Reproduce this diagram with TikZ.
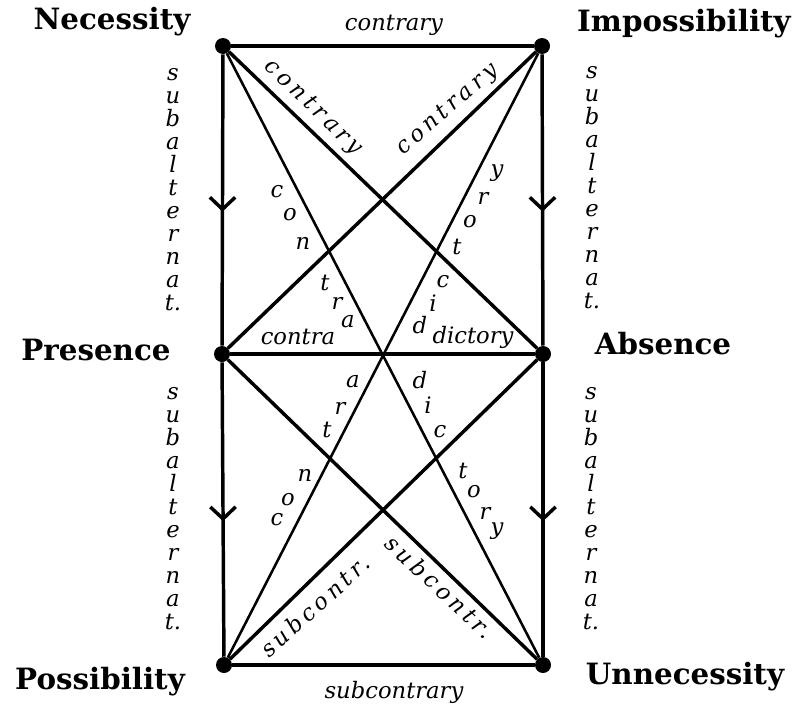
\documentclass[tikz,border=0pt]{standalone}
\usepackage{fontspec}
\setmainfont{DejaVu Serif}
\usepackage{tikz}
\usetikzlibrary{arrows.meta}
\usetikzlibrary{decorations.markings}

\begin{document}
\begin{tikzpicture}[x=0.75pt,y=0.75pt,yscale=-1,xscale=1,
    corner/.style={circle,fill=black,inner sep=0pt,minimum size=12pt},
    title/.style={inner sep=0.75pt,font=\fontsize{22}{26}\selectfont\bfseries},
    word/.style={inner sep=0.75pt,font=\fontsize{17}{20}\selectfont\itshape},
    spaced/.style={inner sep=0.75pt,font=\fontsize{17}{20}\selectfont\itshape\addfontfeature{LetterSpace=18}},
    letter/.style={inner sep=0pt,font=\fontsize{17}{20}\selectfont\itshape},
    column/.style={inner sep=0pt,align=center,font=\fontsize{17}{17.25}\selectfont\itshape},
    side/.style={line width=2.6pt},
    diag/.style={line width=1.9pt},
    subalt/.style={side,postaction={decorate},decoration={markings,mark=at position 0.54 with {\arrow{Straight Barb[length=9pt,width=19pt,line width=2.6pt]}}}}
]
    \useasboundingbox (0,0) rectangle (796,707);

    %Shape: Circle
    \node[corner] (nec) at (223,46) {};
    %Shape: Circle
    \node[corner] (imp) at (542,46) {};
    %Shape: Circle
    \node[corner] (pres) at (222,354) {};
    %Shape: Circle
    \node[corner] (abs) at (543,354) {};
    %Shape: Circle
    \node[corner] (poss) at (224,665) {};
    %Shape: Circle
    \node[corner] (unn) at (543,665) {};

    %Straight Lines
    \draw[side] (nec) -- (imp);
    \draw[side] (pres) -- (abs);
    \draw[side] (poss) -- (unn);
    %Straight Lines with arrows
    \draw[subalt] (nec) -- (pres);
    \draw[subalt] (pres) -- (poss);
    \draw[subalt] (imp) -- (abs);
    \draw[subalt] (abs) -- (unn);
    %Straight Lines
    \draw[side] (nec) -- (abs);
    \draw[side] (imp) -- (pres);
    \draw[side] (pres) -- (unn);
    \draw[side] (abs) -- (poss);
    \draw[diag] (nec) -- (unn);
    \draw[diag] (imp) -- (poss);

    % Text Node
    \node[title] (necessity) at (112,22) {Necessity};
    % Text Node
    \node[title] (impossibility) at (684,24) {Impossibility};
    % Text Node
    \node[title] (presence) at (96,350) {Presence};
    % Text Node
    \node[title] (absence) at (663,344) {Absence};
    % Text Node
    \node[title] (possibility) at (100,682) {Possibility};
    % Text Node
    \node[title] (unnecessity) at (685,677) {Unnecessity};

    % Text Node
    \node[word] (ctop) at (394,25) {contrary};
    % Text Node
    \node[word] (subbot) at (394,692) {subcontrary};
    % Text Node
    \node[word] (contrah) at (298,337) {contra};
    % Text Node
    \node[word] (dictoryh) at (473,337) {dictory};

    % Text Node
    \node[spaced,rotate=-44] (cleft) at (313,108) {contrary};
    % Text Node
    \node[spaced,rotate=41] (cright) at (448,110) {contrary};
    % Text Node
    \node[spaced,rotate=42] (sleft) at (315,606) {subcontr.};
    % Text Node
    \node[spaced,rotate=-43] (sright) at (440,587) {subcontr.};

    % Text Node
    \node[column] (subtl) at (173,190) {s\\u\\b\\a\\l\\t\\e\\r\\n\\a\\t.};
    % Text Node
    \node[column] (subtr) at (592,188) {s\\u\\b\\a\\l\\t\\e\\r\\n\\a\\t.};
    % Text Node
    \node[column] (subbl) at (173,509) {s\\u\\b\\a\\l\\t\\e\\r\\n\\a\\t.};
    % Text Node
    \node[column] (subbr) at (591,509) {s\\u\\b\\a\\l\\t\\e\\r\\n\\a\\t.};

    % Text Node
    \node[letter] (ua1) at (277,192) {c};
    \node[letter] (ua2) at (290,215) {o};
    \node[letter] (ua3) at (303,243) {n};
    \node[letter] (ua4) at (325,283) {t};
    \node[letter] (ua5) at (337,303) {r};
    \node[letter] (ua6) at (348,322) {a};
    % Text Node
    \node[letter] (ud1) at (420,325) {d};
    \node[letter] (ud2) at (433,303) {i};
    \node[letter] (ud3) at (443,282) {c};
    \node[letter] (ud4) at (457,247) {t};
    \node[letter] (ud5) at (470,222) {o};
    \node[letter] (ud6) at (483,198) {r};
    \node[letter] (ud7) at (497,173) {y};
    % Text Node
    \node[letter] (la1) at (277,520) {c};
    \node[letter] (la2) at (288,500) {o};
    \node[letter] (la3) at (305,475) {n};
    \node[letter] (la4) at (327,430) {t};
    \node[letter] (la5) at (340,408) {r};
    \node[letter] (la6) at (353,382) {a};
    % Text Node
    \node[letter] (ld1) at (420,380) {d};
    \node[letter] (ld2) at (428,405) {i};
    \node[letter] (ld3) at (440,432) {c};
    \node[letter] (ld4) at (463,471) {t};
    \node[letter] (ld5) at (474,492) {o};
    \node[letter] (ld6) at (485,513) {r};
    \node[letter] (ld7) at (497,531) {y};

\end{tikzpicture}
\end{document}
